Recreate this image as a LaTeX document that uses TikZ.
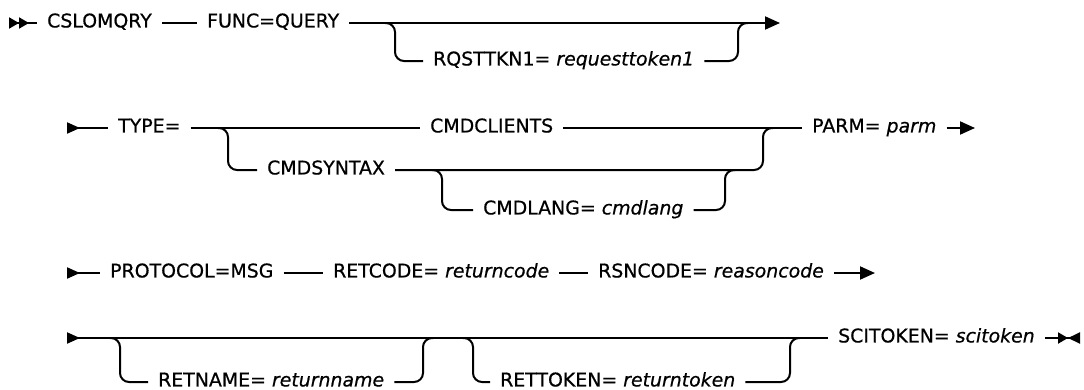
\documentclass[tikz,border=0pt]{standalone}
\usepackage{fontspec}
\setmainfont{DejaVu Sans}[FakeBold=0.6]
\usetikzlibrary{positioning, arrows.meta, calc}

\begin{document}
\begin{tikzpicture}[
    x=1pt, y=-1pt,
    kw/.style={
        anchor=west,
        inner xsep=10pt,
        inner ysep=0pt,
        text height=13.4pt,
        text depth=4.5pt,
        font=\fontsize{18.9}{22}\selectfont
    },
    track/.style={
        line width=2pt,
        line cap=butt
    },
    branch/.style={
        track,
        rounded corners=9pt
    },
    tail/.style={
        track,
        -{Triangle[length=15pt, width=13pt]}
    },
    head/.style={
        track,
        {Triangle[reversed, length=13pt, width=11pt]}-
    }
]
    \useasboundingbox (0,0) rectangle (1084,389);

    % -- Row 1 --
    \coordinate (r1start) at (9,23);
    \node[kw] (cslo) at (37,23) {CSLOMQRY};
    \node[kw] (func) at (197,23) {FUNC=QUERY};
    \coordinate (r1end) at (780,23);

    \draw[track, {Triangle[reversed, length=10pt, width=11pt, sep=0pt]Triangle[reversed, length=10pt, width=11pt]}-] (r1start) -- (cslo.west);
    \draw[track] (cslo.east) -- (func.west);
    \draw[tail] (func.east) -- (r1end);

    % optional request token
    \coordinate (r1a) at (385,23);
    \coordinate (r1b) at (748,23);
    \node[kw] (rqst) at (423,61) {RQSTTKN1= \textit{requesttoken1}};
    \draw[branch] (r1a) -- ++(10,0) |- (rqst.west);
    \draw[branch] (rqst.east) -| ([xshift=-10pt]r1b) -- (r1b);

    % -- Row 2 --
    \coordinate (r2start) at (67,128);
    \node[kw] (type) at (108,128) {TYPE=};
    \node[kw] (cmdc) at (420,128) {CMDCLIENTS};
    \node[kw] (parm) at (802,128) {PARM= \textit{parm}};
    \coordinate (r2end) at (975,128);

    \draw[head] (r2start) -- (type.west);
    \draw[track] (type.east) -- (cmdc.west);
    \draw[track] (cmdc.east) -- (parm.west);
    \draw[tail] (parm.east) -- (r2end);

    % CMDSYNTAX choice
    \coordinate (r2a) at (218,128);
    \coordinate (r2b) at (773,128);
    \node[kw] (cmds) at (257,170) {CMDSYNTAX};
    \draw[branch] (r2a) -- ++(10,0) |- (cmds.west);
    \draw[branch] (cmds.east) -| ([xshift=-10pt]r2b) -- (r2b);

    % optional language
    \coordinate (r2c) at (432,170);
    \coordinate (r2d) at (735,170);
    \node[kw] (cmdl) at (473,210) {CMDLANG= \textit{cmdlang}};
    \draw[branch] (r2c) -- ++(10,0) |- (cmdl.west);
    \draw[branch] (cmdl.east) -| ([xshift=-10pt]r2d) -- (r2d);

    % -- Row 3 --
    \coordinate (r3start) at (67,273);
    \node[kw] (prot) at (100,273) {PROTOCOL=MSG};
    \node[kw] (retc) at (323,273) {RETCODE= \textit{returncode}};
    \node[kw] (rsnc) at (588,273) {RSNCODE= \textit{reasoncode}};
    \coordinate (r3end) at (875,273);

    \draw[head] (r3start) -- (prot.west);
    \draw[track] (prot.east) -- (retc.west);
    \draw[track] (retc.east) -- (rsnc.west);
    \draw[tail] (rsnc.east) -- (r3end);

    % -- Row 4 --
    \coordinate (r4start) at (67,338);
    \node[kw] (sci) at (828,338) {SCITOKEN= \textit{scitoken}};
    \coordinate (r4end) at (1080,338);

    \draw[head] (r4start) -- (sci.west);
    \draw[track, -{Triangle[length=10pt, width=11pt, sep=0pt]Triangle[reversed, length=12pt, width=11pt]}] (sci.east) -- (r4end);

    % optional return name
    \coordinate (r4a) at (110,338);
    \coordinate (r4b) at (433,338);
    \node[kw] (retn) at (148,382) {RETNAME= \textit{returnname}};
    \draw[branch] (r4a) -- ++(10,0) |- (retn.west);
    \draw[branch] (retn.east) -| ([xshift=-10pt]r4b) -- (r4b);

    % optional return token
    \coordinate (r4c) at (463,338);
    \coordinate (r4d) at (800,338);
    \node[kw] (rett) at (490,382) {RETTOKEN= \textit{returntoken}};
    \draw[branch] (r4c) -- ++(10,0) |- (rett.west);
    \draw[branch] (rett.east) -| ([xshift=-10pt]r4d) -- (r4d);

\end{tikzpicture}
\end{document}
